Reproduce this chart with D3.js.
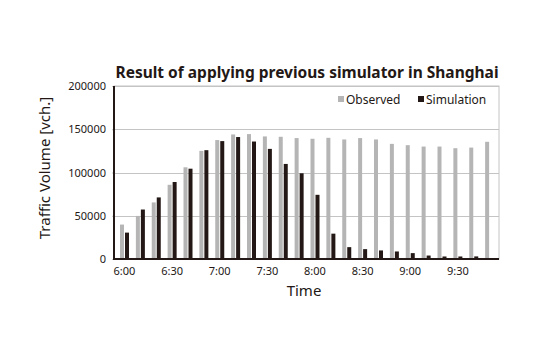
<!DOCTYPE html>
<html>
<head>
<meta charset="utf-8">
<script src="https://cdn.jsdelivr.net/npm/d3@7"></script>
<style>
  html, body { margin: 0; padding: 0; background: #fff; }
  svg { display: block; }
  text { font-family: "Noto Sans", "Open Sans", sans-serif; fill: #231815; }
</style>
</head>
<body>
<svg id="chart" width="540" height="360"></svg>
<script>
const categories = ["6:00","6:10","6:20","6:30","6:40","6:50","7:00","7:10","7:20","7:30","7:40","7:50",
  "8:00","8:10","8:20","8:30","8:40","8:50","9:00","9:10","9:20","9:30","9:40","9:50"];
const observed = [39800, 49800, 65400, 85800, 106000, 125000, 137500, 144000, 144400, 141700, 141300, 139800,
  139000, 140100, 138200, 139800, 138200, 133100, 131600, 130000, 130000, 128100, 128800, 135500];
const simulation = [30500, 57200, 71200, 89000, 104400, 125800, 136300, 141000, 135800, 127300, 109900, 99100,
  74200, 29300, 13700, 11400, 9900, 8700, 6800, 4000, 2900, 2900, 3000, 1000];
const yTicks = [0, 50000, 100000, 150000, 200000];
const xTickLabels = ["6:00","6:30","7:00","7:30","8:00","8:30","9:00","9:30"];
const seriesNames = ["Observed", "Simulation"];
const seriesColors = ["#b5b5b5", "#231815"];

const svg = d3.select("#chart");
const pL = 114, pR = 499, pT = 86, pB = 259;

const x = d3.scaleBand().domain(categories).range([116.5, 497.5]).padding(0);
const y = d3.scaleLinear().domain([0, 200000]).range([pB, pT]);

// frame (light)
svg.append("rect").attr("x", pL).attr("y", pT).attr("width", pR - pL).attr("height", pB - pT)
  .attr("fill", "none").attr("stroke", "#c4c4c4").attr("stroke-width", 1);

// gridlines
svg.append("g").selectAll("line").data(yTicks.filter(d => d > 0)).join("line")
  .attr("x1", pL).attr("x2", pR)
  .attr("y1", d => Math.round(y(d)) + 0.5).attr("y2", d => Math.round(y(d)) + 0.5)
  .attr("stroke", "#c4c4c4").attr("stroke-width", 1);

// bars
const bw = 4;
svg.append("g").selectAll("rect").data(observed).join("rect")
  .attr("x", (d, i) => x(categories[i]) + 3.5)
  .attr("y", d => y(d)).attr("width", bw).attr("height", d => y(0) - y(d))
  .attr("fill", seriesColors[0]);
svg.append("g").selectAll("rect").data(simulation).join("rect")
  .attr("x", (d, i) => x(categories[i]) + 8.5)
  .attr("y", d => y(d)).attr("width", bw).attr("height", d => y(0) - y(d))
  .attr("fill", seriesColors[1]);

// y axis
const yAxis = d3.axisLeft(y).tickValues(yTicks).tickSize(2).tickPadding(6).tickFormat(d3.format("d"));
const gy = svg.append("g").attr("transform", `translate(${pL},0)`).call(yAxis);
gy.select(".domain").remove();
gy.selectAll(".tick line").attr("stroke", "#c4c4c4");
gy.selectAll(".tick text").attr("font-size", 11).attr("font-family", "Noto Sans, Open Sans, sans-serif").attr("fill", "#231815");
svg.append("line").attr("x1", pL).attr("x2", pL).attr("y1", pT).attr("y2", pB + 1)
  .attr("stroke", "#231815").attr("stroke-width", 2);

// x axis
const xAxis = d3.axisBottom(x).tickValues(xTickLabels).tickSize(0).tickPadding(8);
const gx = svg.append("g").attr("transform", `translate(0,${pB})`).call(xAxis);
gx.select(".domain").remove();
gx.selectAll(".tick text").attr("font-size", 11).attr("font-family", "Noto Sans, Open Sans, sans-serif").attr("fill", "#231815");
svg.append("line").attr("x1", pL - 1).attr("x2", pR).attr("y1", pB).attr("y2", pB)
  .attr("stroke", "#231815").attr("stroke-width", 2);

// title
svg.append("text").attr("x", 307).attr("y", 78).attr("text-anchor", "middle")
  .attr("font-size", 15.5).attr("font-weight", "bold").text("Result of applying previous simulator in Shanghai");

// axis titles
svg.append("text").attr("transform", "translate(50,168) rotate(-90)").attr("text-anchor", "middle")
  .attr("font-size", 15).text("Traffic Volume [vch.]");
svg.append("text").attr("x", 304).attr("y", 296).attr("text-anchor", "middle")
  .attr("font-size", 15).text("Time");

// legend
const legX = [338, 418];
const lg = svg.append("g");
seriesNames.forEach((name, i) => {
  lg.append("rect").attr("x", legX[i]).attr("y", 96).attr("width", 6).attr("height", 6).attr("fill", seriesColors[i]);
  lg.append("text").attr("x", legX[i] + 8).attr("y", 103.5).attr("font-size", 12).text(name);
});
</script>
</body>
</html>
